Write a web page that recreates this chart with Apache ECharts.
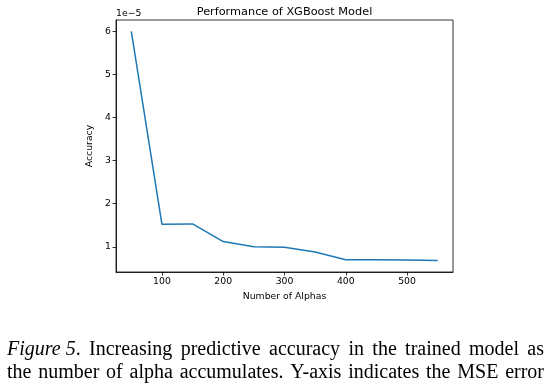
<!DOCTYPE html>
<html><head><meta charset="utf-8">
<script src="https://cdn.jsdelivr.net/npm/echarts@6/dist/echarts.min.js"></script>
<style>html,body{margin:0;padding:0;background:#fff}#c{width:551px;height:389px}</style>
</head><body><div id="c"></div>
<script>
var alphas = [50, 100, 150, 200, 250, 300, 350, 400, 450, 500, 550];
var mse = [6.0, 1.52, 1.53, 1.12, 1.0, 0.99, 0.88, 0.70, 0.70, 0.695, 0.68]; // x 1e-5
var xTicks = [100, 200, 300, 400, 500];
var yTicks = [1, 2, 3, 4, 5, 6];
var titleText = 'Performance of XGBoost Model';
var xName = 'Number of Alphas';
var yName = 'Accuracy';
var scaleText = '1e\u22125';
// caption words: [text, italic]
var captionLine1 = [['Figure 5.', true], ['Increasing', false], ['predictive', false], ['accuracy', false], ['in', false], ['the', false], ['trained', false], ['model', false], ['as', false]];
var captionLine2 = [['the', false], ['number', false], ['of', false], ['alpha', false], ['accumulates.', false], ['Y-axis', false], ['indicates', false], ['the', false], ['MSE', false], ['error', false]];

var chart = echarts.init(document.getElementById('c'), null, {renderer: 'canvas'});
var F = 'DejaVu Sans';
var data = alphas.map(function (a, i) { return [a, mse[i]]; });

// justified caption layout
var CAP_SIZE = 20, CAP_LEFT = 7, CAP_RIGHT = 544;
var mctx = document.createElement('canvas').getContext('2d');
function capFont(it) { return (it ? 'italic ' : '') + CAP_SIZE + 'px "Liberation Serif"'; }
function wordWidth(w) {
  if (w[1] && /\.$/.test(w[0])) {
    mctx.font = capFont(true); var a = mctx.measureText(w[0].replace(/\.$/, '')).width;
    mctx.font = capFont(false); return a + mctx.measureText('.').width;
  }
  mctx.font = capFont(w[1]); return mctx.measureText(w[0]).width;
}
function justify(words, top) {
  var widths = words.map(wordWidth);
  var total = widths.reduce(function (a, b) { return a + b; }, 0);
  var gap = (CAP_RIGHT - CAP_LEFT - total) / (words.length - 1);
  var x = CAP_LEFT, out = [];
  words.forEach(function (w, i) {
    if (w[1] && /\.$/.test(w[0])) {
      var base = w[0].replace(/\.$/, '');
      out.push({type: 'text', x: x, y: top, style: {text: base, font: capFont(true), fill: '#000'}});
      mctx.font = capFont(true);
      out.push({type: 'text', x: x + mctx.measureText(base).width, y: top, style: {text: '.', font: capFont(false), fill: '#000'}});
    } else {
      out.push({type: 'text', x: x, y: top, style: {text: w[0], font: capFont(w[1]), fill: '#000'}});
    }
    x += widths[i] + gap;
  });
  return out;
}

var graphics = [
  {type: 'text', x: 284.5, y: 12, style: {text: titleText, font: '11.3px "DejaVu Sans"', fill: '#000', align: 'center', verticalAlign: 'middle'}},
  {type: 'text', left: 116, top: 9, style: {text: scaleText, font: '9.3px "DejaVu Sans"', fill: '#000'}}
].concat(justify(captionLine1, 340)).concat(justify(captionLine2, 363));

chart.setOption({
  animation: false,
  backgroundColor: '#fff',
  grid: {left: 116, right: 98, top: 20, bottom: 117, show: true, borderColor: '#000', borderWidth: 0.8, backgroundColor: 'transparent'},
  xAxis: {type: 'value', min: 25, max: 575,
    name: xName, nameLocation: 'middle', nameGap: 20,
    nameTextStyle: {fontFamily: F, fontSize: 9.3, color: '#000'},
    splitLine: {show: false},
    axisLine: {show: true, lineStyle: {color: '#000', width: 0.8}},
    axisTick: {show: true, inside: false, length: 3.5, customValues: xTicks, lineStyle: {color: '#000', width: 0.8}},
    axisLabel: {customValues: xTicks, fontFamily: F, fontSize: 9.3, color: '#000', margin: 5}
  },
  yAxis: {type: 'value', min: 0.414, max: 6.266,
    name: yName, nameLocation: 'middle', nameGap: 15, nameRotate: 90,
    nameTextStyle: {fontFamily: F, fontSize: 9.3, color: '#000'},
    splitLine: {show: false},
    axisLine: {show: true, lineStyle: {color: '#000', width: 0.8}},
    axisTick: {show: true, inside: false, length: 3.5, customValues: yTicks, lineStyle: {color: '#000', width: 0.8}},
    axisLabel: {customValues: yTicks, fontFamily: F, fontSize: 9.3, color: '#000', margin: 5,
      formatter: function (v) { return String(Math.round(v)); }}
  },
  series: [{type: 'line', data: data, showSymbol: false, symbol: 'none',
    lineStyle: {color: '#1f77b4', width: 1.5}, itemStyle: {color: '#1f77b4'}}],
  graphic: graphics
});
</script></body></html>
